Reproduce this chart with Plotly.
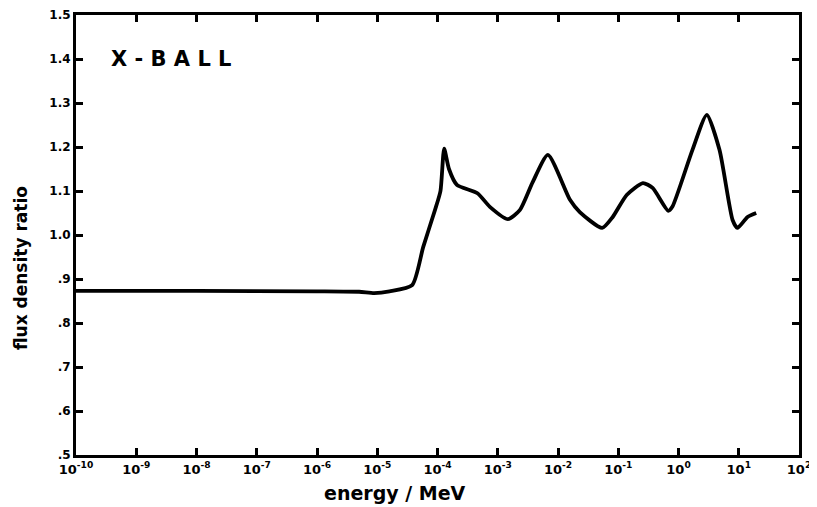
import plotly.graph_objects as go

# energy (MeV) and flux density ratio
energy = [1.0e-10, 1.0e-8, 1.0e-6, 5.0e-6, 8.9e-6, 1.6e-5, 3.8e-5, 5.8e-5, 9.1e-5, 1.12e-4,
          1.29e-4, 1.55e-4, 2.1e-4, 4.6e-4, 7.4e-4, 1.48e-3, 2.34e-3, 3.8e-3, 6.8e-3,
          1.58e-2, 2.3e-2, 5.4e-2, 8.1e-2, 0.138, 0.257, 0.372, 0.676, 0.79, 1.70,
          2.95, 4.8, 7.9, 9.5, 14.0, 19.5]
ratio = [0.873, 0.873, 0.872, 0.871, 0.868, 0.872, 0.886, 0.973, 1.057, 1.100,
         1.196, 1.150, 1.114, 1.095, 1.064, 1.036, 1.057, 1.120, 1.182,
         1.080, 1.052, 1.016, 1.041, 1.091, 1.118, 1.107, 1.055, 1.064, 1.193,
         1.273, 1.193, 1.034, 1.016, 1.041, 1.050]

x_tick_vals = [1e-10, 1e-9, 1e-8, 1e-7, 1e-6, 1e-5, 1e-4, 1e-3, 1e-2, 1e-1, 1e0, 1e1, 1e2]
x_tick_text = ["10<sup>-10</sup>", "10<sup>-9</sup>", "10<sup>-8</sup>", "10<sup>-7</sup>",
               "10<sup>-6</sup>", "10<sup>-5</sup>", "10<sup>-4</sup>", "10<sup>-3</sup>",
               "10<sup>-2</sup>", "10<sup>-1</sup>", "10<sup>0</sup>", "10<sup>1</sup>",
               "10<sup>2</sup>"]
y_tick_vals = [0.5, 0.6, 0.7, 0.8, 0.9, 1.0, 1.1, 1.2, 1.3, 1.4, 1.5]
y_tick_text = [".5", ".6", ".7", ".8", ".9", "1.0", "1.1", "1.2", "1.3", "1.4", "1.5"]

chart_label = "X - B A L L"
x_title = "energy / MeV"
y_title = "flux density ratio"

font_family = "DejaVu Sans, Liberation Sans, sans-serif"

fig = go.Figure()
fig.add_trace(go.Scatter(
    x=energy, y=ratio, mode="lines",
    line=dict(color="black", width=3.8, shape="spline", smoothing=0.6),
    showlegend=False, hoverinfo="skip"))

# the page body adds an 8 px offset, so the figure is 8 px smaller than the window
fig.update_layout(
    width=809, height=499,
    margin=dict(l=68, r=18, t=7, b=52),
    paper_bgcolor="white", plot_bgcolor="white",
    font=dict(family=font_family, color="black", size=11),
    annotations=[
        dict(text=chart_label, x=0.046, y=1.4, xref="paper", yref="y",
             xanchor="left", yanchor="middle", showarrow=False,
             font=dict(size=21, family=font_family, color="black", weight="bold")),
        dict(text=x_title, x=0.441, y=-0.086, xref="paper", yref="paper",
             xanchor="center", yanchor="middle", showarrow=False,
             font=dict(size=19, family=font_family, color="black", weight="bold")),
        dict(text=y_title, x=-0.076, y=0.425, xref="paper", yref="paper",
             xanchor="center", yanchor="middle", showarrow=False, textangle=-90,
             font=dict(size=17, family=font_family, color="black", weight="bold")),
    ],
)
fig.update_xaxes(
    type="log", range=[-10, 2], automargin=False,
    tickvals=x_tick_vals, ticktext=x_tick_text,
    ticks="inside", ticklen=7, tickwidth=2.5, tickcolor="black",
    showline=True, linewidth=3, linecolor="black", mirror="ticks",
    showgrid=False, zeroline=False,
    tickfont=dict(size=13, family=font_family, weight="bold"),
)
fig.update_yaxes(
    range=[0.5, 1.5], automargin=False,
    tickvals=y_tick_vals, ticktext=y_tick_text,
    ticks="inside", ticklen=7, tickwidth=2.5, tickcolor="black",
    showline=True, linewidth=3, linecolor="black", mirror="ticks",
    showgrid=False, zeroline=False,
    tickfont=dict(size=12, family=font_family, weight="bold"),
)

fig.write_html("out.html")
